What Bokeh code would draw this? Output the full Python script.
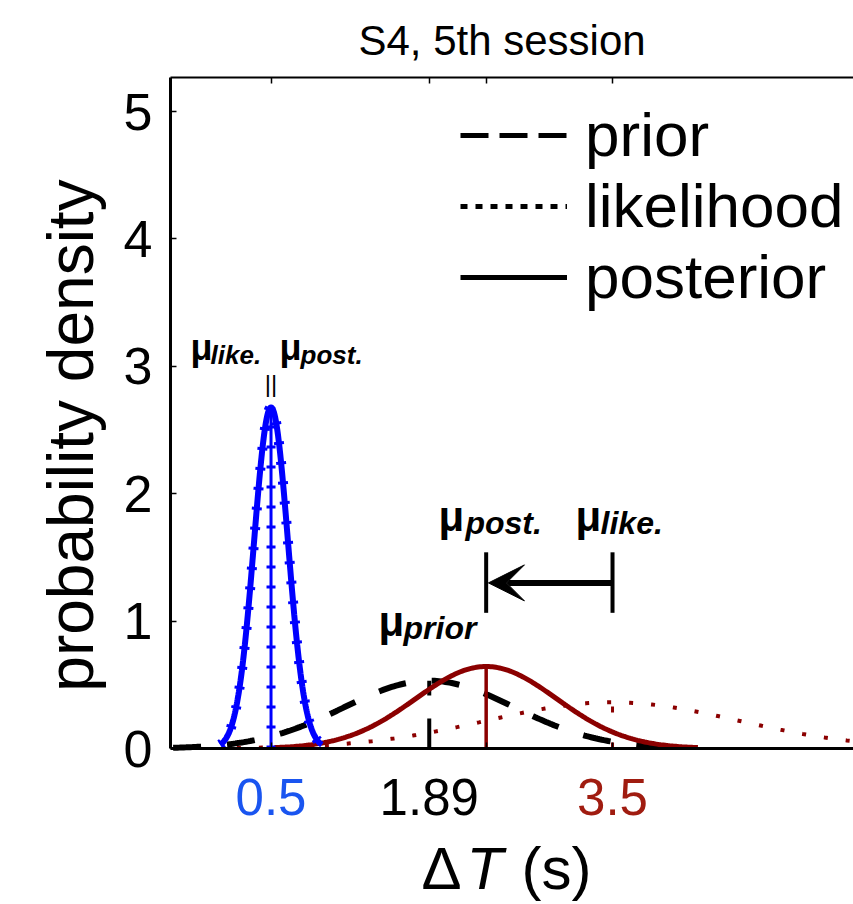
import numpy as np
from bokeh.plotting import figure
from bokeh.models import (Range1d, FixedTicker, LinearAxis, Label, Legend,
                          LegendItem, Arrow, VeeHead)
from bokeh.embed import file_html
from bokeh.resources import INLINE

FONT = "Liberation Sans"

# ---- data: Gaussian components (mean, sd) ----
prior_mean = 1.89
prior_sd = 0.75
like_means = [0.5, 3.5]      # blue session, red session
like_sds = [0.149, 1.1]
post_means = [0.5, 2.39]
post_sds = [0.149, 0.62]
x_tick_labels = ["0.5", "1.89", "3.5"]
x_tick_values = [0.5, 1.89, 3.5]
x_tick_colors = ["#1a55f0", "#000000", "#a01c10"]
y_ticks = [0, 1, 2, 3, 4, 5]
x_lim = [-0.383, 5.617]
y_lim = [0, 5.267]
arrow_y = 1.30
arrow_bar = [1.065, 1.54]

BLUE = "#0000ff"
RED = "#8b0000"
PX_PER_Y = 127.4          # vertical pixels per data unit
SHIFT = 0.37              # baseline correction (em) for text drawn in this backend


def density(m, s, n=240):
    x = np.linspace(m - 3 * s, m + 3 * s, n)
    y = np.exp(-0.5 * ((x - m) / s) ** 2) / (s * np.sqrt(2 * np.pi))
    return x, y


def peak(s):
    return 1.0 / (s * np.sqrt(2 * np.pi))


# frame covers the whole canvas; the axes sit at fixed data locations
p = figure(width=853, height=904, output_backend="svg", toolbar_location=None,
           x_range=Range1d(-1.8765, 5.617), y_range=Range1d(-1.2245, 5.8714),
           x_axis_location=None, y_axis_location=None, title=None,
           min_border_left=0, min_border_right=0, min_border_top=0,
           min_border_bottom=0)
p.outline_line_color = None
p.grid.visible = False
p.background_fill_color = "white"
p.border_fill_color = "white"

xt = [like_means[0], prior_mean, post_means[1], like_means[1]]

left = LinearAxis(fixed_location=x_lim[0], bounds=(y_lim[0], y_lim[1]),
                  ticker=FixedTicker(ticks=y_ticks),
                  major_label_text_font=FONT, major_label_text_font_size="52px",
                  major_label_text_color="black", major_label_standoff=18,
                  major_tick_in=6, major_tick_out=0, major_tick_line_width=1.5,
                  minor_tick_line_color=None, axis_line_width=3)
p.add_layout(left, "left")

bottom = LinearAxis(fixed_location=y_lim[0], bounds=(x_lim[0], x_lim[1]),
                    ticker=FixedTicker(ticks=xt), major_label_text_color=None,
                    major_tick_in=6, major_tick_out=0, major_tick_line_width=1.5,
                    minor_tick_line_color=None, axis_line_width=3)
p.add_layout(bottom, "below")

top = LinearAxis(fixed_location=y_lim[1], bounds=(x_lim[0], x_lim[1]),
                 ticker=FixedTicker(ticks=xt), major_label_text_color=None,
                 major_tick_in=6, major_tick_out=0, major_tick_line_width=1.5,
                 minor_tick_line_color=None, axis_line_width=2)
p.add_layout(top, "above")

# ---- curves ----
# red session likelihood (dotted)
xl, yl = density(like_means[1], like_sds[1])
keep = xl <= x_lim[1]
p.line(xl[keep], yl[keep], line_color=RED, line_width=4, line_dash="4 18")
p.segment(x0=[like_means[1]], y0=[0], x1=[like_means[1]], y1=[peak(like_sds[1])],
          line_color=RED, line_width=3, line_dash="6 30")

# prior (dashed)
xp, yp = density(prior_mean, prior_sd)
keep = xp >= x_lim[0]
p.line(xp[keep], yp[keep], line_color="black", line_width=6, line_dash="28 26")
p.segment(x0=[prior_mean], y0=[0], x1=[prior_mean], y1=[peak(prior_sd)],
          line_color="black", line_width=4, line_dash="30 23")

# red posterior
xq, yq = density(post_means[1], post_sds[1])
p.line(xq, yq, line_color=RED, line_width=5)
p.segment(x0=[post_means[1]], y0=[0], x1=[post_means[1]], y1=[peak(post_sds[1])],
          line_color=RED, line_width=3.5)

# blue likelihood (dotted) and posterior (solid)
xb, yb = density(like_means[0], like_sds[0])
p.line(xb, yb, line_color=BLUE, line_width=10, line_dash="3 17")
p.segment(x0=[like_means[0]], y0=[0], x1=[like_means[0]], y1=[peak(like_sds[0])],
          line_color=BLUE, line_width=9, line_dash="3 17")
xb2, yb2 = density(post_means[0], post_sds[0])
p.line(xb2, yb2, line_color=BLUE, line_width=6)
p.segment(x0=[post_means[0]], y0=[0], x1=[post_means[0]], y1=[peak(post_sds[0])],
          line_color=BLUE, line_width=3)

# arrow from likelihood mean to posterior mean
p.segment(x0=[post_means[1], like_means[1]], y0=[arrow_bar[0]] * 2,
          x1=[post_means[1], like_means[1]], y1=[arrow_bar[1]] * 2,
          line_color="black", line_width=4)
p.add_layout(Arrow(end=VeeHead(size=36, fill_color="black", line_color="black",
                               line_width=1),
                   x_start=like_means[1], y_start=arrow_y,
                   x_end=post_means[1] + 0.02, y_end=arrow_y,
                   line_color="black", line_width=6))


# ---- mu annotations (y given as the wanted baseline, in data units) ----
def mu(x_mu, x_sub, y, sub, size_mu, size_sub):
    p.add_layout(Label(x=x_mu, y=y + SHIFT * size_mu / PX_PER_Y, text="μ",
                       text_font=FONT, text_font_size=f"{size_mu}px",
                       text_font_style="bold", text_color="black",
                       text_baseline="alphabetic"))
    p.add_layout(Label(x=x_sub, y=y - 0.025 + SHIFT * size_sub / PX_PER_Y,
                       text=sub, text_font=FONT, text_font_size=f"{size_sub}px",
                       text_font_style="bold italic", text_color="black",
                       text_baseline="alphabetic"))


mu(-0.207, -0.031, 3.04, "like.", 36, 26)
mu(0.575, 0.759, 3.04, "post.", 36, 26)
mu(1.971, 2.208, 1.70, "post.", 42, 32)
mu(3.175, 3.395, 1.70, "like.", 42, 32)
mu(1.444, 1.664, 0.875, "prior", 42, 32)
p.add_layout(Label(x=like_means[0], y=2.865, text="||", text_font=FONT,
                   text_font_size="24px", text_align="center",
                   text_baseline="middle", text_color="black"))

# ---- coloured x tick labels ----
for v, t, c in zip(x_tick_values, x_tick_labels, x_tick_colors):
    p.add_layout(Label(x=v, y=89 + SHIFT * 51, y_units="screen", text=t,
                       text_font=FONT, text_font_size="51px", text_color=c,
                       text_align="center", text_baseline="alphabetic"))

# x axis title: ΔT (s) with italic T
for xs, t, st in [(421, "Δ", "normal"), (466, "T", "italic"), (521, "(s)", "normal")]:
    p.add_layout(Label(x=xs, y=14 + SHIFT * 60, x_units="screen", y_units="screen",
                       text=t, text_font=FONT, text_font_size="60px",
                       text_font_style=st, text_color="black",
                       text_baseline="alphabetic"))

# y axis title
p.add_layout(Label(x=70, y=469, x_units="screen", y_units="screen",
                   text="probability density", text_font=FONT,
                   text_font_size="64px", angle=np.pi / 2, text_align="center",
                   text_baseline="middle", text_color="black"))

# plot title
p.add_layout(Label(x=358, y=848 + SHIFT * 42, x_units="screen", y_units="screen",
                   text="S4, 5th session", text_font=FONT, text_font_size="42px",
                   text_color="black", text_baseline="alphabetic"))

# ---- legend (sample lines kept outside the visible range) ----
r1 = p.line(x=[-20, -19], y=[-20, -20], line_color="black", line_width=5,
            line_dash="28 11")
r2 = p.line(x=[-20, -19], y=[-20, -20], line_color="black", line_width=5,
            line_dash="7 8")
r3 = p.line(x=[-20, -19], y=[-20, -20], line_color="black", line_width=5)
legend = Legend(items=[LegendItem(label="prior", renderers=[r1]),
                       LegendItem(label="likelihood", renderers=[r2]),
                       LegendItem(label="posterior", renderers=[r3])],
                location=(460, 592), padding=0, margin=0, spacing=0,
                glyph_width=107, glyph_height=20, label_standoff=18,
                label_text_font=FONT, label_text_font_size="62px",
                label_text_color="black",
                border_line_color=None, background_fill_alpha=0)
p.add_layout(legend)

open("out.html", "w").write(file_html(p, INLINE))
